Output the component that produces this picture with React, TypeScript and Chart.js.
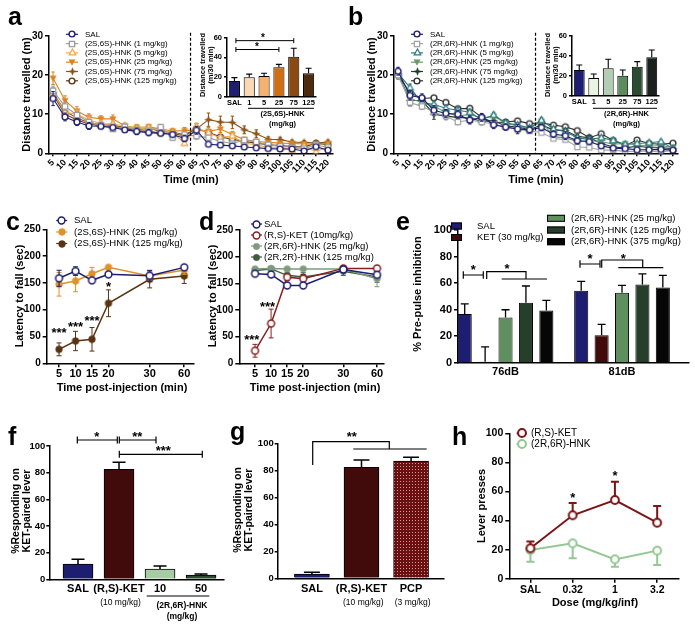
import React, { useEffect, useRef } from 'react';
import { Chart, registerables } from 'chart.js';

Chart.register(...registerables);

const W = 695;
const H = 629;
const FONT = "'Liberation Sans', Arial, Helvetica, sans-serif";
Chart.defaults.font.family = FONT;
Chart.defaults.color = '#000';

// ================= DATA =================
// Panels a / b : open field, distance travelled (m) per 5-min bin
const timeMin = [5, 10, 15, 20, 25, 30, 35, 40, 45, 50, 55, 60, 65, 70, 75, 80, 85, 90, 95, 100, 105, 110, 115, 120];
const aSal = [14.0, 9.3, 8.0, 7.0, 6.9, 6.6, 6.0, 5.6, 5.3, 5.1, 4.8, 3.8, 5.9, 2.3, 2.1, 1.9, 1.6, 1.4, 1.2, 1.1, 1.1, 0.6, 1.7, 0.8];
const aSalErr = [1.8, 1.0, 0.9, 0.9, 0.5, 0.6, 0.6, 0.8, 0.8, 0.6, 0.6, 0.8, 1.0, 0.5, 0.5, 0.5, 0.4, 0.4, 0.3, 0.3, 0.3, 0.3, 0.5, 0.3];
const a1 = [16.0, 12.0, 9.8, 8.0, 7.2, 6.2, 6.8, 6.0, 5.8, 6.7, 4.0, 4.8, 4.4, 4.0, 3.0, 2.5, 3.4, 2.9, 2.2, 1.8, 1.5, 1.2, 2.2, 1.5];
const a1Err = [1.2, 1.0, 0.8, 0.7, 0.6, 0.6, 0.6, 0.6, 0.6, 0.6, 0.6, 0.7, 0.8, 0.6, 0.5, 0.5, 0.5, 0.4, 0.4, 0.3, 0.3, 0.3, 0.4, 0.3];
const a5 = [15.3, 10.5, 10.0, 8.5, 7.6, 7.5, 7.0, 6.3, 6.5, 6.0, 5.3, 2.6, 6.7, 5.2, 4.0, 4.5, 2.6, 2.2, 1.5, 1.6, 0.8, 1.8, 0.4, 1.7];
const a5Err = [1.5, 1.0, 1.0, 0.8, 0.8, 0.8, 0.7, 0.7, 0.7, 0.6, 0.6, 0.5, 0.9, 0.7, 0.6, 0.6, 0.5, 0.5, 0.4, 0.4, 0.3, 0.4, 0.3, 0.3];
const a25 = [19.2, 13.5, 10.8, 9.2, 8.8, 8.8, 7.0, 6.6, 6.8, 6.2, 5.7, 5.8, 6.0, 5.6, 6.2, 4.8, 3.5, 3.0, 2.8, 2.6, 2.5, 2.4, 2.3, 2.5];
const a25Err = [1.6, 1.2, 1.1, 0.9, 0.8, 1.0, 0.7, 0.8, 0.6, 0.6, 0.7, 0.8, 1.5, 1.0, 0.9, 0.8, 0.6, 0.6, 0.5, 0.5, 0.5, 0.4, 0.4, 0.4];
const a75 = [15.5, 10.8, 9.0, 7.8, 7.3, 7.2, 6.6, 6.0, 6.4, 5.6, 5.4, 4.8, 6.2, 8.6, 8.0, 7.9, 6.0, 5.0, 3.6, 3.5, 2.9, 2.8, 2.6, 2.9];
const a75Err = [1.2, 1.0, 0.9, 0.8, 0.7, 0.8, 0.7, 1.2, 0.9, 0.6, 0.7, 0.8, 1.5, 1.7, 1.5, 1.6, 1.0, 1.0, 0.6, 0.6, 0.5, 0.5, 0.5, 0.5];
const a125 = [15.0, 10.0, 8.5, 7.5, 7.0, 6.9, 6.3, 5.8, 5.6, 5.2, 5.0, 4.5, 6.3, 5.3, 4.2, 3.6, 3.0, 2.6, 2.2, 2.0, 1.7, 1.6, 2.6, 2.2];
const a125Err = [1.2, 1.0, 0.8, 0.7, 0.6, 0.6, 0.6, 0.7, 0.6, 0.6, 0.6, 0.7, 1.3, 0.8, 0.6, 0.6, 0.5, 0.5, 0.4, 0.4, 0.4, 0.4, 0.5, 0.4];

const bSal = [21.0, 14.8, 14.2, 11.0, 10.2, 10.0, 8.5, 9.2, 7.3, 6.7, 6.2, 6.0, 6.6, 4.9, 4.5, 3.2, 3.0, 1.9, 1.3, 1.2, 0.9, 0.9, 1.0, 0.8];
const bSalErr = [1.0, 1.2, 1.0, 1.2, 1.0, 1.0, 1.0, 1.0, 1.0, 0.8, 1.2, 0.8, 0.8, 0.8, 1.0, 0.8, 0.6, 0.5, 0.4, 0.4, 0.3, 0.3, 0.3, 0.3];
const b1 = [20.0, 13.0, 12.0, 10.5, 9.5, 8.0, 8.5, 8.0, 7.5, 6.8, 6.1, 5.7, 5.3, 3.8, 3.5, 1.6, 1.5, 0.8, 0.8, 0.5, 0.5, 0.6, 0.3, 0.8];
const b1Err = [0.8, 1.0, 0.8, 0.8, 0.8, 0.7, 0.7, 0.7, 0.6, 0.6, 0.6, 0.5, 0.5, 0.5, 0.5, 0.4, 0.4, 0.3, 0.3, 0.2, 0.2, 0.2, 0.2, 0.2];
const b5 = [20.5, 16.8, 13.0, 12.5, 11.5, 11.0, 10.5, 8.6, 9.8, 7.8, 7.2, 6.5, 8.5, 6.2, 5.5, 4.0, 3.5, 4.0, 3.3, 2.3, 2.5, 2.7, 3.0, 1.2];
const b5Err = [0.9, 0.9, 0.9, 0.8, 0.8, 0.8, 0.8, 0.7, 0.7, 0.6, 0.6, 0.6, 0.7, 0.6, 0.6, 0.5, 0.5, 0.5, 0.4, 0.4, 0.4, 0.4, 0.4, 0.3];
const b25 = [19.8, 14.0, 13.0, 12.0, 10.5, 9.5, 10.0, 9.0, 9.5, 7.6, 7.0, 6.3, 8.2, 4.2, 4.0, 3.0, 3.2, 3.0, 2.3, 2.5, 2.2, 1.8, 2.0, 1.5];
const b25Err = [0.9, 0.9, 0.8, 0.8, 0.8, 0.8, 0.7, 0.7, 0.7, 0.6, 0.6, 0.6, 0.6, 0.5, 0.5, 0.5, 0.4, 0.4, 0.4, 0.4, 0.3, 0.3, 0.3, 0.3];
const b75 = [20.3, 13.5, 13.5, 10.0, 9.5, 9.2, 9.0, 8.2, 8.3, 7.0, 6.7, 6.1, 7.2, 6.0, 5.8, 4.3, 4.0, 2.5, 1.6, 1.4, 1.8, 1.5, 1.4, 1.2];
const b75Err = [1.0, 1.3, 1.0, 1.3, 0.9, 0.9, 0.8, 0.9, 0.7, 0.7, 0.7, 0.6, 0.6, 0.6, 0.6, 0.5, 0.5, 0.4, 0.4, 0.3, 0.3, 0.3, 0.3, 0.3];
const b125 = [20.0, 15.5, 14.0, 14.2, 13.0, 11.4, 11.5, 9.2, 7.8, 8.0, 8.3, 7.6, 7.8, 7.2, 6.8, 5.8, 4.0, 5.0, 3.3, 2.0, 3.4, 2.5, 2.3, 2.6];
const b125Err = [0.8, 0.8, 0.8, 0.6, 0.6, 0.6, 0.6, 0.6, 0.6, 0.5, 0.5, 0.5, 0.5, 0.5, 0.5, 0.4, 0.4, 0.4, 0.4, 0.3, 0.3, 0.3, 0.3, 0.3];

// Insets: total distance (m/30 min)
const insetDoses = ['SAL', '1', '5', '25', '75', '125'];
const aInset = [16, 19.7, 21, 29.9, 40.7, 23.8];
const aInsetErr = [3.4, 3.3, 2.8, 3.0, 8.5, 5.1];
const bInset = [25.8, 17.8, 27.5, 20.1, 29.1, 38.6];
const bInsetErr = [5.1, 4.0, 9.1, 5.7, 5.1, 7.3];

// Panels c / d : rotarod latency to fall (sec)
const postInjLabels = ['5', '10', '15', '20', '30', '60'];
const postInjSlots = [0, 1, 2, 3, 5.5, 7.6]; // segmented (Prism-style) time axis
const cSal = [158.6, 172, 154.8, 166, 163.4, 179];
const cSalErr = [15, 8, 3, 3, 10, 3];
const c25 = [147.4, 153.5, 167, 179, 163, 174];
const c25Err = [22, 20, 12, 3, 8, 8];
const c125 = [26, 41.6, 44.8, 112, 156.7, 163];
const c125Err = [12, 18, 22, 25, 16, 14];
const dSal = [168, 166.6, 146, 146, 176, 166];
const dSalErr = [4, 4, 3, 3, 4, 4];
const dKet = [23.5, 74.6, 161.6, 158.6, 178, 178];
const dKetErr = [12, 27, 6, 8, 3, 3];
const d25 = [177, 178, 177, 177, 177, 158.6];
const d25Err = [3, 3, 3, 3, 3, 15];
const d125 = [174, 177, 165, 162, 172.8, 162];
const d125Err = [4, 3, 6, 8, 8, 10];

// Panel e : prepulse inhibition (%)
const ppiLevels = ['76dB', '81dB'];
const eSal = [36.7, 54.3];
const eSalErr = [7.6, 7.0];
const eKet = [0.8, 20.6];
const eKetErr = [11.2, 8.3];
const e25 = [34, 52.7];
const e25Err = [5.9, 5.5];
const e125 = [45.2, 59];
const e125Err = [12.6, 8.0];
const e375 = [39.4, 56.7];
const e375Err = [7.5, 9.1];

// Panels f / g : % responding on KET-paired lever
const fLabels = ['SAL', '(R,S)-KET', '10', '50'];
const fVals = [11.5, 82.5, 7.7, 3.2];
const fErr = [3.5, 5.3, 2.3, 0.8];
const gLabels = ['SAL', '(R,S)-KET', 'PCP'];
const gVals = [3.2, 82.2, 86.9];
const gErr = [1.2, 5.4, 2.7];

// Panel h : self-administration lever presses
const hDoses = ['SAL', '0.32', '1', '3.2'];
const hKet = [20.9, 43.6, 54.1, 38.5];
const hKetErr = [4.6, 8.5, 12.6, 11.5];
const hHnk = [19.7, 24.3, 13.3, 19.3];
const hHnkErr = [8, 10.3, 5, 9.9];

// ================= STYLE =================
const NAVY = '#1d1d72';
const MAROON = '#420b0b';

type Area = { l: number; t: number; r: number; b: number };

function mk(shape: string, r: number, fill: string, stroke: string, lw: number): HTMLCanvasElement {
  const size = Math.ceil(2 * r + lw + 2);
  const c = document.createElement('canvas');
  c.width = size;
  c.height = size;
  const g = c.getContext('2d')!;
  const m = size / 2;
  g.beginPath();
  if (shape === 'circle') g.arc(m, m, r, 0, Math.PI * 2);
  else if (shape === 'square') g.rect(m - r * 0.85, m - r * 0.85, r * 1.7, r * 1.7);
  else if (shape === 'tri') {
    g.moveTo(m, m - r);
    g.lineTo(m + r * 0.95, m + r * 0.7);
    g.lineTo(m - r * 0.95, m + r * 0.7);
    g.closePath();
  } else if (shape === 'triDown') {
    g.moveTo(m, m + r);
    g.lineTo(m + r * 0.95, m - r * 0.7);
    g.lineTo(m - r * 0.95, m - r * 0.7);
    g.closePath();
  } else if (shape === 'star') {
    for (let k = 0; k < 8; k++) {
      const ang = (k * Math.PI) / 4 - Math.PI / 2;
      const rad = k % 2 === 0 ? r : r * 0.38;
      const px = m + Math.cos(ang) * rad;
      const py = m + Math.sin(ang) * rad;
      if (k === 0) g.moveTo(px, py);
      else g.lineTo(px, py);
    }
    g.closePath();
  }
  g.fillStyle = fill;
  g.fill();
  if (lw > 0) {
    g.lineWidth = lw;
    g.strokeStyle = stroke;
    g.stroke();
  }
  return c;
}

function dotPattern(): CanvasPattern {
  const c = document.createElement('canvas');
  c.width = 3;
  c.height = 3;
  const g = c.getContext('2d')!;
  g.fillStyle = '#6a1010';
  g.fillRect(0, 0, 3, 3);
  g.fillStyle = '#d49a9a';
  g.fillRect(1, 1, 1, 1);
  return g.createPattern(c, 'repeat')!;
}

const errPlugin = {
  id: 'errbars',
  beforeDatasetDraw(chart: any, args: any) {
    const ds = chart.data.datasets[args.index];
    if (!ds || !ds.errors) return;
    const meta = chart.getDatasetMeta(args.index);
    const ys = chart.scales[meta.yAxisID];
    const ctx = chart.ctx;
    ctx.save();
    ctx.strokeStyle = ds.errColor || ds.borderColor;
    ctx.lineWidth = ds.errWidth || 1;
    const cap = ds.errCap ?? 4;
    const dir = ds.errDir || 'both';
    meta.data.forEach((el: any, i: number) => {
      const e = ds.errors[i];
      if (!e) return;
      const raw = ds.data[i];
      const v = typeof raw === 'object' ? raw.y : raw;
      const x = el.x;
      const y0 = ys.getPixelForValue(v);
      const ends: number[] = [];
      if (dir !== 'down') ends.push(ys.getPixelForValue(v + e));
      if (dir !== 'up') ends.push(ys.getPixelForValue(Math.max(v - e, ys.min)));
      ends.forEach((py) => {
        ctx.beginPath();
        ctx.moveTo(x, y0);
        ctx.lineTo(x, py);
        ctx.moveTo(x - cap / 2, py);
        ctx.lineTo(x + cap / 2, py);
        ctx.stroke();
      });
    });
    ctx.restore();
  },
};

type Item = any;

function annot(items: Item[]) {
  return {
    id: 'annot',
    afterDraw(chart: any) {
      const ctx = chart.ctx;
      const xs = chart.scales.x;
      const ys = chart.scales.y;
      const P = (x: number, y: number, data?: boolean) =>
        data ? [xs.getPixelForValue(x), ys.getPixelForValue(y)] : [x, y];
      for (const it of items) {
        ctx.save();
        if (it.k === 't') {
          const [x, y] = P(it.x, it.y, it.data);
          ctx.font = `${it.bold ? 'bold ' : ''}${it.size}px ${FONT}`;
          ctx.fillStyle = it.color || '#000';
          ctx.textAlign = it.align || 'center';
          ctx.textBaseline = it.baseline || 'middle';
          ctx.translate(x, y + (it.dy || 0));
          if (it.rot) ctx.rotate((it.rot * Math.PI) / 180);
          ctx.fillText(it.text, 0, 0);
        } else if (it.k === 'p') {
          ctx.beginPath();
          it.pts.forEach((p: number[], j: number) => {
            const [x, y] = P(p[0], p[1], it.data);
            if (j === 0) ctx.moveTo(x, y);
            else ctx.lineTo(x, y);
          });
          ctx.lineWidth = it.w || 1;
          ctx.strokeStyle = it.color || '#000';
          ctx.setLineDash(it.dash || []);
          ctx.stroke();
        } else if (it.k === 'b') {
          const [x1, y] = P(it.x1, it.y, it.data);
          const [x2] = P(it.x2, it.y, it.data);
          const tk = it.tick ?? 3;
          ctx.beginPath();
          ctx.moveTo(x1, y);
          ctx.lineTo(x2, y);
          ctx.moveTo(x1, y - tk);
          ctx.lineTo(x1, y + tk);
          ctx.moveTo(x2, y - tk);
          ctx.lineTo(x2, y + tk);
          ctx.lineWidth = it.w || 1;
          ctx.strokeStyle = '#000';
          ctx.stroke();
        } else if (it.k === 'r') {
          ctx.fillStyle = it.fill;
          ctx.fillRect(it.x, it.y, it.w, it.h);
          ctx.lineWidth = 1;
          ctx.strokeStyle = '#000';
          ctx.strokeRect(it.x + 0.5, it.y + 0.5, it.w - 1, it.h - 1);
        } else if (it.k === 'i') {
          ctx.drawImage(it.img, Math.round(it.x - it.img.width / 2), Math.round(it.y - it.img.height / 2));
        }
        ctx.restore();
      }
    },
  };
}

const T = (text: string, x: number, y: number, size: number, o: any = {}) => ({ k: 't', text, x, y, size, ...o });
const star = (text: string, x: number, y: number, o: any = {}) => {
  const size = o.size || 13;
  return { k: 't', text, x, y, size, bold: true, dy: size * 0.22, ...o };
};
const letter = (text: string, x: number, y: number) => T(text, x, y, 25, { bold: true, align: 'left', baseline: 'alphabetic' });
const legendRow = (x: number, y: number, half: number, img: HTMLCanvasElement, color: string, text: string, tx: number, size: number, lw = 1.2) => [
  { k: 'p', pts: [[x - half, y], [x + half, y]], color, w: lw },
  { k: 'i', img, x, y },
  T(text, tx, y, size, { align: 'left' }),
];

function layoutFor(a: Area) {
  return { padding: { left: 0, top: a.t, right: W - a.r, bottom: 0 } };
}

function axisStyle(tl: number, bw = 1.5) {
  return {
    border: { display: true, color: '#000', width: bw },
    grid: { display: true, drawOnChartArea: false, drawTicks: tl > 0, tickLength: tl, color: '#000', lineWidth: bw, offset: false },
  };
}

function yLin(a: Area, min: number, max: number, ticks: number[], fs: number, pad = 2, tl = 4) {
  return {
    type: 'linear',
    position: 'left',
    min,
    max,
    afterFit: (s: any) => {
      s.width = a.l;
    },
    afterBuildTicks: (s: any) => {
      s.ticks = ticks.map((v) => ({ value: v }));
    },
    ...axisStyle(tl),
    ticks: { font: { size: fs, weight: 'bold' }, color: '#000', padding: pad },
  };
}

function xLin(a: Area, min: number, max: number, ticks: number[], labels: string[] | null, fs: number, pad: number, tl: number, rot = 0) {
  const t: any = { font: { size: fs, weight: 'bold' }, color: '#000', padding: pad, autoSkip: false, minRotation: rot, maxRotation: rot };
  if (labels) t.callback = (_v: any, i: number) => labels[i];
  return {
    type: 'linear',
    position: 'bottom',
    offset: false,
    min,
    max,
    afterFit: (s: any) => {
      s.height = H - a.b;
    },
    afterBuildTicks: (s: any) => {
      s.ticks = ticks.map((v) => ({ value: v }));
    },
    ...axisStyle(tl),
    ticks: t,
  };
}

function xCat(a: Area, fs: number, pad: number, tl: number) {
  return {
    type: 'category',
    position: 'bottom',
    offset: true,
    afterFit: (s: any) => {
      s.height = H - a.b;
    },
    ...axisStyle(tl),
    ticks: { font: { size: fs, weight: 'bold' }, color: '#000', padding: pad, autoSkip: false, maxRotation: 0 },
  };
}

function baseOptions(a: Area, scales: any) {
  return {
    responsive: false,
    animation: false,
    events: [],
    layout: layoutFor(a),
    plugins: { legend: { display: false }, tooltip: { enabled: false } },
    scales,
  };
}

function lineDs(xs: number[], ys: number[], err: number[], color: string, img: HTMLCanvasElement, lw = 1.2, dir = 'both', cap = 4) {
  return {
    data: xs.map((x, i) => ({ x, y: ys[i] })),
    errors: err,
    errDir: dir,
    errCap: cap,
    errColor: color,
    errWidth: 1,
    borderColor: color,
    backgroundColor: color,
    borderWidth: lw,
    pointStyle: img,
    pointRadius: 4,
    fill: false,
    tension: 0,
  };
}

function buildConfigs(): any[] {
  const cfgs: any[] = [];

  // ---------- a / b main ----------
  const openField = (ox: number, letterText: string, series: any[], legendFont: number) => {
    const A: Area = { l: 49 + ox, t: 36, r: 333 + ox, b: 153.3 };
    const items: Item[] = [
      letterText === 'a' ? letter('a', 8 + ox, 25) : letter('b', 348, 25),
      T('Distance travelled (m)', 27 + ox, 94.5, 11, { bold: true, rot: -90 }),
      T('Time (min)', 191 + ox, 180, 11, { bold: true }),
      { k: 'p', data: true, pts: [[62.5, 30.8], [62.5, 0]], w: 1.2, dash: [3, 2] },
    ];
    const rows = [34.3, 43.6, 52.9, 62.2, 71.5, 80.8];
    series.forEach((s, i) => {
      items.push(...legendRow(72 + ox, rows[i], 6, s.img, s.color, s.label, 85 + ox, legendFont));
    });
    cfgs.push({
      type: 'line',
      data: { datasets: series.map((s) => lineDs(timeMin, s.data, s.err, s.color, s.img, 1.1, 'both', 3.5)) },
      options: baseOptions(A, {
        x: xLin(A, 3.3, 122.1, timeMin, null, 9, 1, 3, 45),
        y: yLin(A, 0, 30, [0, 10, 20, 30], 10, 2, 4),
      }),
      plugins: [errPlugin, annot(items)],
    });
  };

  const A_ORANGE_L = '#f2a84a';
  const A_ORANGE = '#d9841f';
  const A_BROWN = '#8c5418';
  const A_DARK = '#5a3814';
  openField(0, 'a', [
    { label: 'SAL', data: aSal, err: aSalErr, color: NAVY, img: mk('circle', 2.9, '#fff', NAVY, 1.4) },
    { label: '(2S,6S)-HNK (1 mg/kg)', data: a1, err: a1Err, color: '#9c9c9c', img: mk('square', 3.1, '#fff', '#9c9c9c', 1.3) },
    { label: '(2S,6S)-HNK (5 mg/kg)', data: a5, err: a5Err, color: A_ORANGE_L, img: mk('tri', 3.5, '#fff', A_ORANGE_L, 1.2) },
    { label: '(2S,6S)-HNK (25 mg/kg)', data: a25, err: a25Err, color: A_ORANGE, img: mk('triDown', 3.3, A_ORANGE, A_ORANGE, 0.5) },
    { label: '(2S,6S)-HNK (75 mg/kg)', data: a75, err: a75Err, color: A_BROWN, img: mk('star', 3.8, A_BROWN, A_BROWN, 0.5) },
    { label: '(2S,6S)-HNK (125 mg/kg)', data: a125, err: a125Err, color: A_DARK, img: mk('circle', 2.9, '#fff', A_DARK, 1.4) },
  ], 8);

  const B_TEAL = '#2c7b7b';
  const B_GREEN = '#6b9b6b';
  const B_DKGREEN = '#1e3a2a';
  const B_BLACK = '#2e2e2e';
  openField(345, 'b', [
    { label: 'SAL', data: bSal, err: bSalErr, color: NAVY, img: mk('circle', 2.9, '#fff', NAVY, 1.4) },
    { label: '(2R,6R)-HNK (1 mg/kg)', data: b1, err: b1Err, color: '#a4a4a4', img: mk('square', 3.1, '#fff', '#a4a4a4', 1.3) },
    { label: '(2R,6R)-HNK (5 mg/kg)', data: b5, err: b5Err, color: B_TEAL, img: mk('tri', 3.5, '#fff', B_TEAL, 1.2) },
    { label: '(2R,6R)-HNK (25 mg/kg)', data: b25, err: b25Err, color: B_GREEN, img: mk('triDown', 3.3, B_GREEN, B_GREEN, 0.5) },
    { label: '(2R,6R)-HNK (75 mg/kg)', data: b75, err: b75Err, color: B_DKGREEN, img: mk('star', 3.8, B_DKGREEN, B_DKGREEN, 0.5) },
    { label: '(2R,6R)-HNK (125 mg/kg)', data: b125, err: b125Err, color: B_BLACK, img: mk('circle', 2.9, '#fff', B_BLACK, 1.4) },
  ], 8);

  // ---------- insets ----------
  const inset = (A: Area, vals: number[], err: number[], colors: string[], groupLabel: string, extra: Item[]) => {
    const cx = (A.l + A.r) / 2 + 10;
    const items: Item[] = [
      T('Distance travelled', A.l - 24.5, 65, 7.5, { bold: true, rot: -90 }),
      T('(m/30 min)', A.l - 16.5, 65, 7.5, { bold: true, rot: -90 }),
      { k: 'p', pts: [[A.l + 21, 108.3], [A.r - 2, 108.3]], w: 1 },
      T(groupLabel, cx + 1, 114, 7.5, { bold: true }),
      T('(mg/kg)', cx + 1, 123.5, 7.5, { bold: true }),
      ...extra,
    ];
    cfgs.push({
      type: 'bar',
      data: {
        labels: insetDoses,
        datasets: [{
          data: vals,
          errors: err,
          errDir: 'up',
          errCap: 6,
          errColor: '#000',
          errWidth: 1.1,
          backgroundColor: colors,
          borderColor: '#000',
          borderWidth: 1,
          barPercentage: 0.75,
          categoryPercentage: 1,
        }],
      },
      options: baseOptions(A, {
        x: xCat(A, 7.5, 1.5, 0),
        y: yLin(A, 0, 60, [0, 20, 40, 60], 7.5, 2, 3),
      }),
      plugins: [errPlugin, annot(items)],
    });
  };
  inset({ l: 227, t: 37.7, r: 316, b: 96.7 }, aInset, aInsetErr,
    [NAVY, '#fbd8b4', '#f4b26e', '#cf6f12', '#8a4a12', '#4e2b0c'], '(2S,6S)-HNK', [
      { k: 'b', data: true, x1: 0.1, x2: 4, y: 57, tick: 2.5 },
      star('*', 263, 36, { size: 10 }),
      { k: 'b', data: true, x1: 0.1, x2: 3, y: 48, tick: 2.5 },
      star('*', 257, 45, { size: 10 }),
    ]);
  inset({ l: 572, t: 36, r: 659, b: 95.7 }, bInset, bInsetErr,
    [NAVY, '#e9f4e2', '#b3cdb2', '#5c8b5c', '#2a4a31', '#1b211c'], '(2R,6R)-HNK', []);

  // ---------- c ----------
  {
    const A: Area = { l: 46.7, t: 229.3, r: 193.3, b: 363.3 };
    const C25 = '#e0922a';
    const C125 = '#5a3412';
    const sImg = mk('circle', 3.4, '#fff', NAVY, 1.5);
    const i25 = mk('circle', 3.4, C25, C25, 0.5);
    const i125 = mk('circle', 3.4, C125, C125, 0.5);
    const items: Item[] = [
      letter('c', 6, 230),
      T('Latency to fall (sec)', 20, 296, 11, { bold: true, rot: -90 }),
      T('Time post-injection (min)', 122, 388, 11, { bold: true }),
      ...legendRow(61.7, 220.5, 5.5, sImg, NAVY, 'SAL', 74, 9.5),
      ...legendRow(61.7, 232, 5.5, i25, C25, '(2S,6S)-HNK (25 mg/kg)', 74, 9.5),
      ...legendRow(61.7, 243.5, 5.5, i125, C125, '(2S,6S)-HNK (125 mg/kg)', 74, 9.5),
      star('***', 0, 62, { data: true }),
      star('***', 1, 73, { data: true }),
      star('***', 2, 83, { data: true }),
      star('*', 3, 146, { data: true }),
    ];
    cfgs.push({
      type: 'line',
      data: {
        datasets: [
          lineDs(postInjSlots, cSal, cSalErr, NAVY, sImg, 1.5, 'both', 5),
          lineDs(postInjSlots, c25, c25Err, C25, i25, 1.5, 'both', 5),
          lineDs(postInjSlots, c125, c125Err, C125, i125, 1.5, 'both', 5),
        ],
      },
      options: baseOptions(A, {
        x: xLin(A, -0.75, 8.15, postInjSlots, postInjLabels, 11, 0, 4),
        y: yLin(A, 0, 250, [0, 50, 100, 150, 200, 250], 10, 2, 4),
      }),
      plugins: [errPlugin, annot(items)],
    });
  }

  // ---------- d ----------
  {
    const A: Area = { l: 239.3, t: 230, r: 383.3, b: 363.3 };
    const DK = '#8a1f1f';
    const D25 = '#7c9c7c';
    const D125 = '#3d5c40';
    const sImg = mk('circle', 3.4, '#fff', NAVY, 1.5);
    const kImg = mk('circle', 3.4, '#fff', DK, 1.5);
    const i25 = mk('circle', 3.2, D25, D25, 0.5);
    const i125 = mk('circle', 3.2, D125, D125, 0.5);
    const items: Item[] = [
      letter('d', 199, 230),
      T('Latency to fall (sec)', 213.3, 296, 11, { bold: true, rot: -90 }),
      T('Time post-injection (min)', 315, 388, 11, { bold: true }),
      ...legendRow(256.5, 224, 5.5, sImg, NAVY, 'SAL', 264, 9.5),
      ...legendRow(256.5, 235, 5.5, kImg, DK, '(R,S)-KET (10mg/kg)', 264, 9.5),
      ...legendRow(256.5, 246, 5.5, i25, D25, '(2R,6R)-HNK (25 mg/kg)', 264, 9.5),
      ...legendRow(256.5, 257, 5.5, i125, D125, '(2R,2R)-HNK (125 mg/kg)', 264, 9.5),
      star('***', -0.2, 49, { data: true }),
      star('***', 0.78, 111, { data: true }),
    ];
    cfgs.push({
      type: 'line',
      data: {
        datasets: [
          lineDs(postInjSlots, dSal, dSalErr, NAVY, sImg, 1.5, 'both', 5),
          lineDs(postInjSlots, dKet, dKetErr, DK, kImg, 1.5, 'both', 5),
          lineDs(postInjSlots, d25, d25Err, D25, i25, 1.5, 'both', 5),
          lineDs(postInjSlots, d125, d125Err, D125, i125, 1.5, 'both', 5),
        ],
      },
      options: baseOptions(A, {
        x: xLin(A, -0.98, 7.99, postInjSlots, postInjLabels, 11, 0, 4),
        y: yLin(A, 0, 250, [0, 50, 100, 150, 200, 250], 10, 2, 4),
      }),
      plugins: [errPlugin, annot(items)],
    });
  }

  // ---------- e ----------
  {
    const A: Area = { l: 458, t: 230, r: 689, b: 362.7 };
    const eColors = [NAVY, MAROON, '#5f8f5f', '#263f2b', '#060606'];
    const eVals = [eSal, eKet, e25, e125, e375];
    const eErrs = [eSalErr, eKetErr, e25Err, e125Err, e375Err];
    const items: Item[] = [
      letter('e', 396, 230),
      T('% Pre-pulse inhibition', 418, 294, 11, { bold: true, rot: -90 }),
      { k: 'r', x: 451, y: 222.5, w: 11, h: 7, fill: NAVY },
      T('SAL', 477, 226, 9.5, { align: 'left' }),
      { k: 'r', x: 451, y: 234, w: 11, h: 7, fill: MAROON },
      T('KET (30 mg/kg)', 477, 237.5, 9.5, { align: 'left' }),
      { k: 'r', x: 547, y: 214.8, w: 18, h: 7, fill: eColors[2] },
      T('(2R,6R)-HNK (25 mg/kg)', 571, 218.3, 9.5, { align: 'left' }),
      { k: 'r', x: 547, y: 226.5, w: 18, h: 7, fill: eColors[3] },
      T('(2R,6R)-HNK (125 mg/kg)', 571, 230, 9.5, { align: 'left' }),
      { k: 'r', x: 547, y: 238.2, w: 18, h: 7, fill: eColors[4] },
      T('(2R,6R)-HNK (375 mg/kg)', 571, 241.7, 9.5, { align: 'left' }),
      // 76 dB
      { k: 'b', x1: 463.3, x2: 483.3, y: 275, tick: 3.7, w: 1.2 },
      star('*', 473.3, 267.7),
      { k: 'p', pts: [[486.7, 279], [486.7, 271.7], [526, 271.7], [526, 279]], w: 1.2 },
      { k: 'p', pts: [[501.7, 279], [547, 279]], w: 1.2 },
      star('*', 507, 266.7),
      // 81 dB
      { k: 'b', x1: 580, x2: 600, y: 264, tick: 3.7, w: 1.2 },
      star('*', 590, 256.7),
      { k: 'p', pts: [[601.7, 267.7], [601.7, 260], [642.7, 260], [642.7, 267.7]], w: 1.2 },
      { k: 'p', pts: [[618.3, 267.7], [663.3, 267.7]], w: 1.2 },
      star('*', 623.3, 256.7),
    ];
    cfgs.push({
      type: 'bar',
      data: {
        datasets: eVals.map((vals, k) => ({
          data: vals.map((v, i) => ({ x: i, y: v })),
          errors: eErrs[k],
          errDir: 'up',
          errCap: 8,
          errColor: '#000',
          errWidth: 1.3,
          backgroundColor: eColors[k],
          borderColor: '#000',
          borderWidth: 1,
          barPercentage: 0.69,
          categoryPercentage: 0.876,
        })),
      },
      options: baseOptions(A, {
        x: xLin(A, -0.408, 1.575, [0, 1], ppiLevels, 11, 3, 0),
        y: yLin(A, 0, 100, [0, 20, 40, 60, 80, 100], 11, 2, 4),
      }),
      plugins: [errPlugin, annot(items)],
    });
  }

  // ---------- f ----------
  {
    const A: Area = { l: 49.3, t: 446, r: 224, b: 579.3 };
    const items: Item[] = [
      letter('f', 8, 445),
      T('%Responding on', 16.5, 511, 10.5, { bold: true, rot: -90 }),
      T('KET-paired lever', 27.5, 511, 10.5, { bold: true, rot: -90 }),
      { k: 'b', x1: 77.3, x2: 117.3, y: 440, tick: 3.5, w: 1.2 },
      star('*', 96.7, 435),
      { k: 'b', x1: 119.3, x2: 156, y: 440, tick: 3.5, w: 1.2 },
      star('**', 137.3, 435),
      { k: 'b', x1: 119.3, x2: 202.3, y: 454.3, tick: 3.5, w: 1.2 },
      star('***', 163.3, 449),
      T('(10 mg/kg)', 120.5, 602.7, 8.5),
      { k: 'p', pts: [[146.7, 596], [209.3, 596]], w: 1 },
      T('(2R,6R)-HNK', 182, 605.5, 8.5, { bold: true }),
      T('(mg/kg)', 182, 616.5, 8.5, { bold: true }),
    ];
    cfgs.push({
      type: 'bar',
      data: {
        datasets: [{
          data: fVals.map((v, i) => ({ x: i, y: v })),
          errors: fErr,
          errDir: 'up',
          errCap: 13,
          errColor: '#000',
          errWidth: 1.5,
          backgroundColor: [NAVY, MAROON, '#a6cda2', '#2a4a31'],
          borderColor: '#000',
          borderWidth: 1,
          barThickness: 30,
        }],
      },
      options: baseOptions(A, {
        x: xLin(A, -0.7, 3.56, [0, 1, 2, 3], fLabels, 11, 3, 0),
        y: yLin(A, 0, 100, [0, 20, 40, 60, 80, 100], 9.5, 1, 3),
      }),
      plugins: [errPlugin, annot(items)],
    });
  }

  // ---------- g ----------
  {
    const A: Area = { l: 277.7, t: 443.3, r: 443.3, b: 578.3 };
    const items: Item[] = [
      letter('g', 230, 440),
      T('%Responding on', 238, 510, 10.5, { bold: true, rot: -90 }),
      T('KET-paired lever', 249.5, 510, 10.5, { bold: true, rot: -90 }),
      { k: 'p', pts: [[312.7, 465], [312.7, 441.7], [389.3, 441.7], [389.3, 449]], w: 1.2 },
      { k: 'p', pts: [[353.3, 449], [426.7, 449]], w: 1.2 },
      star('**', 351.7, 435),
      T('(10 mg/kg)', 363.3, 602.7, 8.5),
      T('(3 mg/kg)', 412.7, 602.7, 8.5),
    ];
    cfgs.push({
      type: 'bar',
      data: {
        datasets: [{
          data: gVals.map((v, i) => ({ x: i, y: v })),
          errors: gErr,
          errDir: 'up',
          errCap: 16,
          errColor: '#000',
          errWidth: 1.5,
          backgroundColor: [NAVY, MAROON, dotPattern()],
          borderColor: '#000',
          borderWidth: 1,
          barThickness: 35,
        }],
      },
      options: baseOptions(A, {
        x: xLin(A, -0.69, 2.65, [0, 1, 2], gLabels, 11, 4, 0),
        y: yLin(A, 0, 100, [0, 20, 40, 60, 80, 100], 9.5, 1, 3),
      }),
      plugins: [errPlugin, annot(items)],
    });
  }

  // ---------- h ----------
  {
    const A: Area = { l: 509.3, t: 433.3, r: 678.3, b: 578.7 };
    const HK = '#7b1616';
    const HH = '#95c795';
    const kImg = mk('circle', 3.9, '#fff', HK, 2);
    const hImg = mk('circle', 3.9, '#fff', HH, 2);
    const items: Item[] = [
      letter('h', 452, 445),
      T('Lever presses', 481.7, 506, 11, { bold: true, rot: -90 }),
      T('Dose (mg/kg/inf)', 595, 603.3, 11, { bold: true }),
      ...legendRow(521.7, 433.3, 5, kImg, HK, '(R,S)-KET', 531, 10, 2),
      ...legendRow(521.7, 444, 5, hImg, HH, '(2R,6R)-HNK', 531, 10, 2),
      star('*', 1, 57, { data: true }),
      star('*', 2, 72, { data: true }),
    ];
    const ds = (vals: number[], err: number[], color: string, img: HTMLCanvasElement, dir: string) => ({
      data: vals,
      errors: err,
      errDir: dir,
      errCap: 8,
      errColor: color,
      errWidth: 2,
      borderColor: color,
      backgroundColor: color,
      borderWidth: 2,
      pointStyle: img,
      pointRadius: 5,
      fill: false,
      tension: 0,
    });
    cfgs.push({
      type: 'line',
      data: {
        labels: hDoses,
        datasets: [ds(hKet, hKetErr, HK, kImg, 'up'), ds(hHnk, hHnkErr, HH, hImg, 'down')],
      },
      options: baseOptions(A, {
        x: xCat(A, 10.5, 1, 4),
        y: yLin(A, 0, 100, [0, 20, 40, 60, 80, 100], 10.5, 2, 4),
      }),
      plugins: [errPlugin, annot(items)],
    });
  }

  return cfgs;
}

const N_CHARTS = 10;

export default function App() {
  const refs = useRef<(HTMLCanvasElement | null)[]>([]);
  useEffect(() => {
    const cfgs = buildConfigs();
    const charts = cfgs.map((cfg, i) => new Chart(refs.current[i] as HTMLCanvasElement, cfg));
    return () => charts.forEach((c) => c.destroy());
  }, []);
  return (
    <div style={{ position: 'absolute', left: 0, top: 0, width: W, height: H, background: '#fff', overflow: 'hidden' }}>
      {Array.from({ length: N_CHARTS }).map((_, i) => (
        <canvas
          key={i}
          ref={(el) => {
            refs.current[i] = el;
          }}
          width={W}
          height={H}
          style={{ position: 'absolute', left: 0, top: 0, width: W, height: H }}
        />
      ))}
    </div>
  );
}
